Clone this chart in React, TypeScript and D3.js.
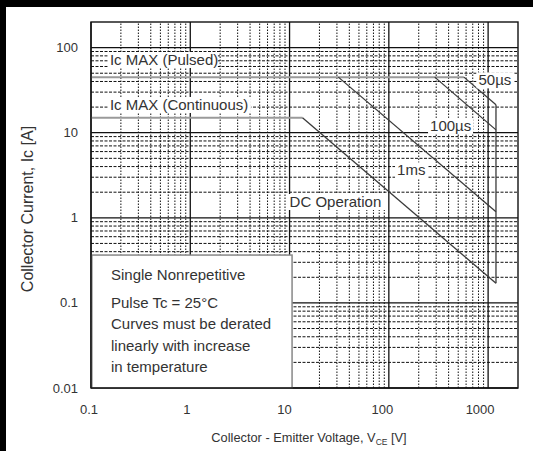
import React from 'react';
import * as d3 from 'd3';

// chart size (matches the window)
const W = 533;
const H = 451;
const font = '"Liberation Sans", Arial, sans-serif';

// axis ticks
const xTicks = [0.1, 1, 10, 100, 1000];
const xTickLabels = ['0.1', '1', '10', '100', '1000'];
const yTicks = [0.01, 0.1, 1, 10, 100];
const yTickLabels = ['0.01', '0.1', '1', '10', '100'];

// SOA curves, [VCE (V), Ic (A)]
const icPulsedLine = [[0.1, 45], [570, 45]];
const icContinuousLine = [[0.1, 15], [13.5, 15]];
const dcLine = [[13.5, 15], [1200, 0.17]];
const ms1Line = [[31, 45], [1200, 1.18]];
const us100Line = [[290, 45], [1200, 10.8]];
const us50Line = [[570, 45], [1200, 21.3]];
const vcesLine = [[1200, 21.3], [1200, 0.17]];

// note box text
const noteLines = [
    'Single Nonrepetitive',
    'Pulse Tc = 25°C',
    'Curves must be derated',
    'linearly with increase',
    'in temperature'
];

// minor grid values (2..9 per decade)
const minorValues = (lo: number, hi: number) => {
    const out: number[] = [];
    for (let d = Math.floor(Math.log10(lo)); d <= Math.ceil(Math.log10(hi)); d++) {
        for (let k = 2; k <= 9; k++) {
            const v = k * Math.pow(10, d);
            if (v > lo && v < hi) out.push(v);
        }
    }
    return out;
};

const SoaChart = () => {
    const x = d3.scaleLog().domain([0.1, 2000]).range([91, 518]);
    const y = d3.scaleLog().domain([0.01, 200]).range([388, 22]);
    const [x0, x1] = x.range();
    const [y0, y1] = y.range();

    const line = d3.line<number[]>().x(d => x(d[0])).y(d => y(d[1]));

    const xMinor = minorValues(0.1, 2000);
    const yMinor = minorValues(0.01, 200);

    const curveStroke = '#3a3a3a';
    const textFill = '#333';

    // label with white background, placed in data coords
    const tag = (txt: string, vx: number, vy: number, w: number, key: string) => (
        <g key={key} transform={`translate(${x(vx)},${y(vy)})`}>
            <rect x={-2} y={-13} width={w} height={16} fill="#fff" />
            <text x={0} y={0} fontSize={15} fill={textFill}>{txt}</text>
        </g>
    );

    return (
        <svg width={W} height={H} style={{position: 'absolute', left: 0, top: 0, background: '#fff'}}
             fontFamily={font}>
            {/* page frame */}
            <rect x={0} y={0} width={W} height={7} fill="#000" />
            <rect x={0} y={0} width={6} height={H} fill="#000" />

            {/* minor grid */}
            {xMinor.map(v => (
                <line key={'xm' + v} x1={x(v)} x2={x(v)} y1={y0} y2={y1}
                      stroke="#111" strokeWidth={1} strokeDasharray="1.5,1.5" />
            ))}
            {yMinor.map(v => (
                <line key={'ym' + v} x1={x0} x2={x1} y1={y(v)} y2={y(v)}
                      stroke="#111" strokeWidth={1} strokeDasharray="3,1.5" />
            ))}
            {/* major grid */}
            {xTicks.map(v => (
                <line key={'xM' + v} x1={x(v)} x2={x(v)} y1={y0} y2={y1} stroke="#111" strokeWidth={1.3} />
            ))}
            {yTicks.map(v => (
                <line key={'yM' + v} x1={x0} x2={x1} y1={y(v)} y2={y(v)} stroke="#111" strokeWidth={1.3} />
            ))}

            {/* Ic max lines */}
            <path d={line(icPulsedLine as any) || ''} stroke="#9a9a9a" strokeWidth={2} fill="none" />
            <path d={line(icContinuousLine as any) || ''} stroke="#9a9a9a" strokeWidth={2} fill="none" />

            {/* SOA curves */}
            {[dcLine, ms1Line, us100Line, us50Line, vcesLine].map((c, i) => (
                <path key={'c' + i} d={line(c as any) || ''} stroke={curveStroke} strokeWidth={1.3} fill="none" />
            ))}

            {/* curve labels */}
            {tag('Ic MAX (Pulsed)', 0.155, 62.5, 110, 'lp')}
            {tag('Ic MAX (Continuous)', 0.155, 18.5, 143, 'lc')}
            {tag('50µs', 800, 36, 38, 'l50')}
            {tag('100µs', 260, 10.5, 45, 'l100')}
            {tag('1ms', 121, 3.15, 32, 'l1ms')}
            {tag('DC Operation', 10, 1.34, 98, 'ldc')}

            {/* note box */}
            <rect x={x(0.102)} y={y(0.365)} width={x(10.6) - x(0.102)} height={y0 - y(0.365)}
                  fill="#fff" stroke="#888" strokeWidth={1.5} />
            {noteLines.map((t, i) => (
                <text key={'n' + i} x={111} y={280 + i * 21.5 + (i > 0 ? 6 : 0)} fontSize={15} fill={textFill}>{t}</text>
            ))}

            {/* plot frame */}
            <rect x={x0} y={y1} width={x1 - x0} height={y0 - y1} fill="none" stroke="#111" strokeWidth={1.4} />

            {/* tick labels */}
            {xTicks.map((v, i) => (
                <text key={'xt' + v} x={x(v) - 2 - i * 1.5} y={414} textAnchor="middle" fontSize={13} fill={textFill}>
                    {xTickLabels[i]}
                </text>
            ))}
            {yTicks.map((v, i) => (
                <text key={'yt' + v} x={78} y={y(v)} dy="0.35em" textAnchor="end" fontSize={13} fill={textFill}>
                    {yTickLabels[i]}
                </text>
            ))}

            {/* axis titles */}
            <text x={309} y={442} textAnchor="middle" fontSize={12.8} fill={textFill}>
                Collector - Emitter Voltage, V<tspan fontSize={8.5} dy={3}>CE</tspan><tspan dy={-3}> [V]</tspan>
            </text>
            <text transform="translate(33,209) rotate(-90)" textAnchor="middle" fontSize={16} fill={textFill}>
                Collector Current, Ic [A]
            </text>
        </svg>
    );
};

export default function App() {
    return <SoaChart />;
}
